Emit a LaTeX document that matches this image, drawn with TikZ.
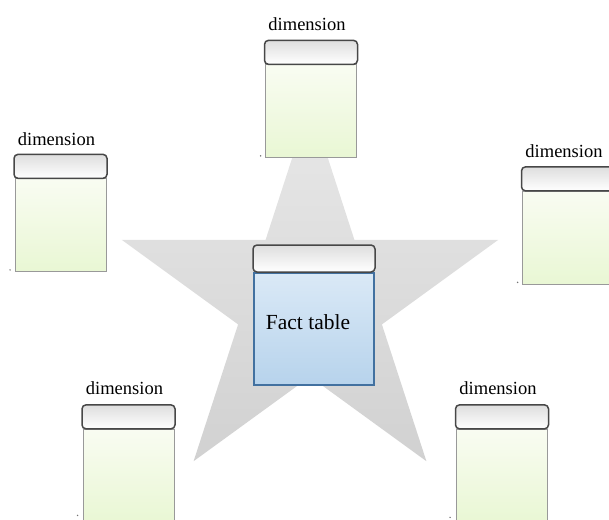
\documentclass[tikz,border=0pt]{standalone}
\usepackage{fontspec}
\setmainfont{Liberation Serif}
\usetikzlibrary{positioning}
\definecolor{dimtop}{RGB}{249,252,242}
\definecolor{dimbot}{RGB}{233,247,212}
\definecolor{facttop}{RGB}{218,233,246}
\definecolor{factbot}{RGB}{183,211,236}
\definecolor{factline}{RGB}{66,113,160}
\begin{document}
\begin{tikzpicture}[x=1pt,y=-1pt,
		head/.style={draw=black!72,line width=1.5pt,rounded corners=4pt,top color=black!13,bottom color=white,minimum width=93pt,minimum height=24pt,inner sep=0pt},
		dimbody/.style={draw=black!40,line width=0.8pt,top color=dimtop,bottom color=dimbot,minimum width=91pt,minimum height=93pt,inner sep=0pt},
		lbl/.style={font=\fontsize{18.5}{18.5}\selectfont,inner sep=0pt,text depth=0pt,xshift=-4pt},
		handle/.style={fill=black!55}]
	\useasboundingbox(0,0)rectangle(609,519);
	\clip(0,0)rectangle(609,519);
	% star behind the tables
	\shade[top color=black!9,bottom color=black!18]
		(310,103)--(354.4,239.8)--(498.3,239.8)--(381.9,324.4)--(426.4,461.2)
		--(310,376.6)--(193.6,461.2)--(238.1,324.4)--(121.7,239.8)--(265.6,239.8)--cycle;
	% fact table
	\node[draw=factline,line width=2.5pt,top color=facttop,bottom color=factbot,minimum width=120pt,minimum height=112pt](fbody)at(314,329){};
	\node[head,minimum width=122pt,minimum height=27pt,above=-1pt of fbody](fhead){};
	\node[font=\fontsize{21.5}{21.5}\selectfont](ftxt)at(308,322){Fact table};
	% dimensions
	\node[dimbody](btop)at(311,111){};
	\node[head,above=-1pt of btop](htop){};
	\node[lbl,above=9pt of htop](ltop){dimension};
	\fill[handle]([xshift=-4.5pt,yshift=2pt]btop.south west)circle(0.8pt);
	\node[dimbody](bleft)at(60.5,225){};
	\node[head,above=-1pt of bleft](hleft){};
	\node[lbl,above=8pt of hleft](lleft){dimension};
	\fill[handle]([xshift=-4.5pt,yshift=2pt]bleft.south west)circle(0.8pt);
	\node[dimbody](bright)at(568,237.5){};
	\node[head,above=-1pt of bright](hright){};
	\node[lbl,above=8pt of hright](lright){dimension};
	\fill[handle]([xshift=-4.5pt,yshift=2pt]bright.south west)circle(0.8pt);
	\node[dimbody](bbl)at(128.5,475.5){};
	\node[head,above=-1pt of bbl](hbl){};
	\node[lbl,above=9pt of hbl](lbl){dimension};
	\fill[handle]([xshift=-5pt,yshift=7pt]bbl.south west)circle(0.8pt);
	\node[dimbody](bbr)at(502,475.5){};
	\node[head,above=-1pt of bbr](hbr){};
	\node[lbl,above=9pt of hbr](lbr){dimension};
	\fill[handle]([xshift=-6pt,yshift=5pt]bbr.south west)circle(0.8pt);
\end{tikzpicture}
\end{document}
